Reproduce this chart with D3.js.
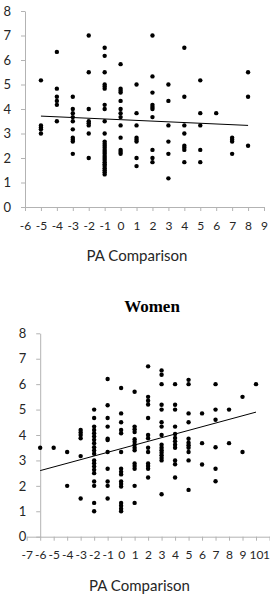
<!DOCTYPE html>
<html>
<head>
<meta charset="utf-8">
<script src="https://cdn.jsdelivr.net/npm/d3@7"></script>
<style>
  body { margin: 0; background: #fff; }
  .axis path, .axis line { stroke: #b3b3b3; }
  .axis text { font-family: Lato, "Open Sans", sans-serif; fill: #262626; }
  .axis-label { font-family: Lato, "Open Sans", sans-serif; fill: #262626; }
</style>
</head>
<body>
<div id="chart"></div>
<script>
// top chart (title cropped off in the source)
const topX = [-5, -4, -3, -2, -1, 0, 1, 2, 3, 4, 5, 6, 7, 8];
const topY = [
  [5.17, 3.33, 3.25, 3.17, 3.0],
  [6.33, 4.83, 4.5, 4.33, 4.17, 3.5],
  [4.5, 4.0, 3.83, 3.67, 3.5, 3.17, 2.83, 2.75, 2.67, 2.17],
  [7.0, 5.5, 4.0, 3.5, 3.42, 3.33, 3.0, 2.0],
  [6.5, 6.17, 5.5, 5.0, 4.92, 4.83, 4.17, 4.0, 3.5, 3.0, 2.67, 2.58, 2.5, 2.42, 2.33, 2.25, 2.17, 2.08, 2.0, 1.92, 1.83, 1.75, 1.67, 1.58, 1.5, 1.42, 1.33],
  [5.83, 4.83, 4.75, 4.67, 4.33, 4.0, 3.83, 3.67, 3.33, 2.83, 2.33, 2.25, 2.17],
  [5.0, 3.83, 3.33, 2.83, 2.75, 2.67, 2.0, 1.67],
  [7.0, 5.33, 4.67, 4.17, 4.08, 4.0, 3.67, 2.33, 2.0, 1.83],
  [5.0, 4.33, 3.33, 2.67, 2.17, 1.17],
  [6.5, 4.5, 3.33, 3.0, 2.5, 2.42, 2.33, 1.83],
  [5.17, 3.83, 3.33, 2.33, 1.83],
  [3.83],
  [2.83, 2.75, 2.67, 2.17],
  [5.5, 4.5, 2.5]
];
const topTrend = [[-5, 3.71], [8, 3.33]];
const topXTicks = [-6, -5, -4, -3, -2, -1, 0, 1, 2, 3, 4, 5, 6, 7, 8, 9];

// Women
const womenX = [-6, -5, -4, -3, -2, -1, 0, 1, 2, 3, 4, 5, 6, 7, 8, 9, 10];
const womenY = [
  [3.5],
  [3.5],
  [3.33, 2.0],
  [4.2, 4.1, 4.0, 3.87, 3.17, 1.5],
  [5.0, 4.67, 4.33, 4.2, 4.07, 3.94, 3.81, 3.68, 3.52, 3.39, 3.26, 3.0, 2.89, 2.76, 2.63, 2.5, 2.17, 2.0, 1.33, 1.0],
  [6.2, 5.17, 4.67, 4.33, 3.85, 3.8, 3.33, 2.67, 2.17, 2.0, 1.5],
  [5.85, 4.85, 4.5, 4.2, 4.07, 3.33, 2.67, 2.55, 2.45, 2.17, 2.07, 1.97, 1.33, 1.22, 1.1, 1.0],
  [5.7, 4.33, 4.23, 4.12, 3.83, 3.73, 3.62, 3.5, 3.4, 2.88, 2.78, 2.67, 2.0, 1.33],
  [6.7, 5.5, 5.35, 5.2, 4.67, 4.0, 3.87, 3.5, 3.33, 2.88, 2.78, 2.67, 2.33],
  [6.54, 6.37, 6.0, 5.19, 5.0, 4.5, 4.33, 4.0, 3.62, 3.5, 3.4, 3.3, 3.2, 3.1, 3.0, 1.67],
  [6.0, 5.19, 5.0, 4.33, 4.04, 3.88, 3.75, 3.62, 3.5, 3.0, 2.85, 2.33],
  [6.17, 6.0, 4.85, 4.5, 3.85, 3.7, 3.6, 3.5, 3.33, 3.0, 1.84],
  [4.85, 3.68, 2.84],
  [6.0, 5.0, 4.6, 3.52, 2.67, 2.18],
  [5.0, 3.68],
  [5.5, 3.33],
  [6.0]
];
const womenTrend = [[-6, 2.6], [10, 4.9]];
const womenXTicks = [-7, -6, -5, -4, -3, -2, -1, 0, 1, 2, 3, 4, 5, 6, 7, 8, 9, 10, 11];

const yTicks = [0, 1, 2, 3, 4, 5, 6, 7, 8];

const width = 270, height = 612;

const svg = d3.select("#chart")
  .append("svg")
  .attr("width", width)
  .attr("height", height);

const toPoints = (xs, ys) => xs.flatMap((x, i) => ys[i].map(y => ({ x, y })));

const drawScatter = (cfg) => {
  const g = svg.append("g");
  const x = d3.scaleLinear().domain(cfg.xDomain).range(cfg.xRange);
  const y = d3.scaleLinear().domain([0, 8]).range(cfg.yRange);
  const yAxisX = x(cfg.yAxisAt);

  // x axis
  const xAxis = g.append("g")
    .attr("class", "axis")
    .attr("transform", `translate(0, ${cfg.yRange[0]})`)
    .call(d3.axisBottom(x).tickValues(cfg.xTicks).tickSize(4).tickSizeOuter(0).tickFormat(d3.format("d")));
  xAxis.selectAll("text")
    .attr("y", 22.5)
    .attr("dy", null)
    .style("font-size", "12px")
    .text(d => cfg.xLabels.includes(d) ? d : "");

  // y axis
  const yAxis = g.append("g")
    .attr("class", "axis")
    .attr("transform", `translate(${yAxisX}, 0)`)
    .call(d3.axisLeft(y).tickValues(yTicks).tickSize(4).tickSizeOuter(0).tickPadding(10));
  yAxis.selectAll("text").style("font-size", "13px");

  // points
  g.selectAll(".dot")
    .data(toPoints(cfg.xs, cfg.ys))
    .join("circle")
    .attr("class", "dot")
    .attr("cx", d => x(d.x))
    .attr("cy", d => y(d.y))
    .attr("r", 2.2)
    .attr("fill", "#000");

  // trend line
  g.append("path")
    .attr("d", d3.line().x(d => x(d[0])).y(d => y(d[1]))(cfg.trend))
    .attr("stroke", "#000")
    .attr("stroke-width", 1)
    .attr("fill", "none");

  // x axis label
  svg.append("text")
    .attr("class", "axis-label")
    .attr("x", cfg.labelX)
    .attr("y", cfg.labelY)
    .attr("text-anchor", "middle")
    .style("font-size", "15px")
    .text("PA Comparison");
};

drawScatter({
  xs: topX, ys: topY, trend: topTrend,
  xDomain: [-6, 9], xRange: [25, 264], yRange: [207, 11],
  yAxisAt: -6, xTicks: topXTicks, xLabels: topXTicks,
  labelX: 137, labelY: 261
});

svg.append("text")
  .attr("x", 152)
  .attr("y", 311.5)
  .attr("text-anchor", "middle")
  .style("font-family", "'Liberation Serif', 'DejaVu Serif', serif")
  .style("font-weight", "bold")
  .style("font-size", "17px")
  .text("Women");

drawScatter({
  xs: womenX, ys: womenY, trend: womenTrend,
  xDomain: [-7, 11], xRange: [26.7, 269.5], yRange: [536.7, 333.3],
  yAxisAt: -6, xTicks: womenXTicks, xLabels: womenXTicks,
  labelX: 139.5, labelY: 591
});
</script>
</body>
</html>
